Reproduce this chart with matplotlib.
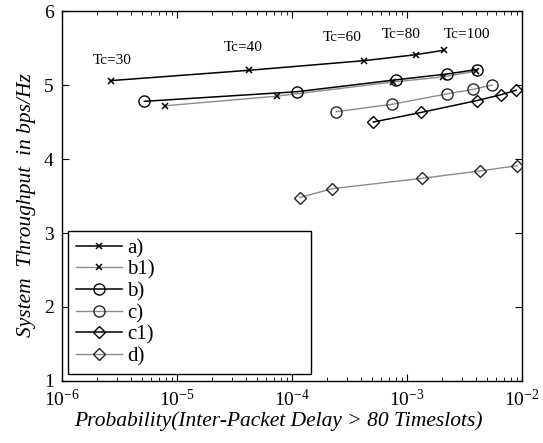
import numpy as np
import matplotlib
matplotlib.use("Agg")
import matplotlib.pyplot as plt

plt.rcParams['font.family'] = 'Liberation Serif'
plt.rcParams['mathtext.fontset'] = 'stix'

# series data (x = probability, y = throughput)
a_x = [2.65e-6, 4.26e-5, 4.26e-4, 1.19e-3, 2.09e-3]
a_y = [5.06, 5.20, 5.33, 5.41, 5.47]

b1_x = [7.9e-6, 7.4e-5, 7.5e-4, 2.06e-3, 4.0e-3]
b1_y = [4.72, 4.85, 5.04, 5.11, 5.19]

b_x = [5.2e-6, 1.1e-4, 7.96e-4, 2.25e-3, 4.05e-3]
b_y = [4.78, 4.91, 5.07, 5.15, 5.21]

c_x = [2.43e-4, 7.4e-4, 2.22e-3, 3.72e-3, 5.5e-3]
c_y = [4.64, 4.74, 4.88, 4.94, 5.00]

c1_x = [5.1e-4, 1.33e-3, 4.05e-3, 6.6e-3, 8.9e-3]
c1_y = [4.50, 4.63, 4.79, 4.87, 4.93]

d_x = [1.17e-4, 2.25e-4, 1.36e-3, 4.35e-3, 9.1e-3]
d_y = [3.48, 3.60, 3.74, 3.84, 3.91]

tc_labels = ["Tc=30", "Tc=40", "Tc=60", "Tc=80", "Tc=100"]
tc_x = [2.75e-6, 3.8e-5, 2.75e-4, 8.9e-4, 3.3e-3]
tc_y = [5.33, 5.51, 5.64, 5.69, 5.69]

fig = plt.figure(figsize=(5.43, 4.43), dpi=100)
ax = fig.add_axes([0.1142, 0.140, 0.847, 0.835])

gray = '0.55'
ax.plot(a_x, a_y, color='black', lw=1.1, marker='x', ms=4, mew=1.1, label='a)')
ax.plot(b1_x, b1_y, color=gray, lw=1.0, marker='x', ms=4, mew=1.1,
        mec='black', label='b1)')
ax.plot(b_x, b_y, color='black', lw=1.1, marker='o', ms=8, mfc='none',
        mec='black', mew=1.0, label='b)')
ax.plot(c_x, c_y, color=gray, lw=1.0, marker='o', ms=8, mfc='none',
        mec='0.15', mew=1.0, label='c)')
ax.plot(c1_x, c1_y, color='black', lw=1.1, marker='D', ms=6.5, mfc='none',
        mec='black', mew=1.0, label='c1)')
ax.plot(d_x, d_y, color=gray, lw=1.0, marker='D', ms=6.5, mfc='none',
        mec='0.15', mew=1.0, label='d)')

for lab, x, y in zip(tc_labels, tc_x, tc_y):
    ax.text(x, y, lab, fontsize=11, ha='center', va='center')

ax.set_xscale('log')
ax.set_xlim(1e-6, 1e-2)
ax.set_ylim(1, 6)
ax.set_yticks([1, 2, 3, 4, 5, 6])
ax.tick_params(which='both', direction='in', top=True, right=True, labelsize=14)
ax.tick_params(which='major', length=5)
ax.tick_params(which='minor', length=3)
ax.tick_params(axis='x', pad=6)
ax.tick_params(axis='y', pad=6)
for s in ax.spines.values():
    s.set_linewidth(1.0)

ax.set_xlabel('Probability(Inter-Packet Delay > 80 Timeslots)', fontsize=15.5,
              style='italic')
ax.set_ylabel('System  Throughput  in bps/Hz', fontsize=15.5, style='italic')
ax.xaxis.set_label_coords(0.47, -0.082)
ax.yaxis.set_label_coords(-0.056, 0.476)

leg = ax.legend(loc='lower left', bbox_to_anchor=(0.013, 0.018, 0.528, 0.39),
                mode='expand', borderaxespad=0, fontsize=15, handlelength=2.2,
                labelspacing=0.1, borderpad=0.38, handletextpad=0.25,
                fancybox=False, framealpha=1, edgecolor='black')
leg.get_frame().set_linewidth(1.0)

fig.savefig('out.png', dpi=100)
